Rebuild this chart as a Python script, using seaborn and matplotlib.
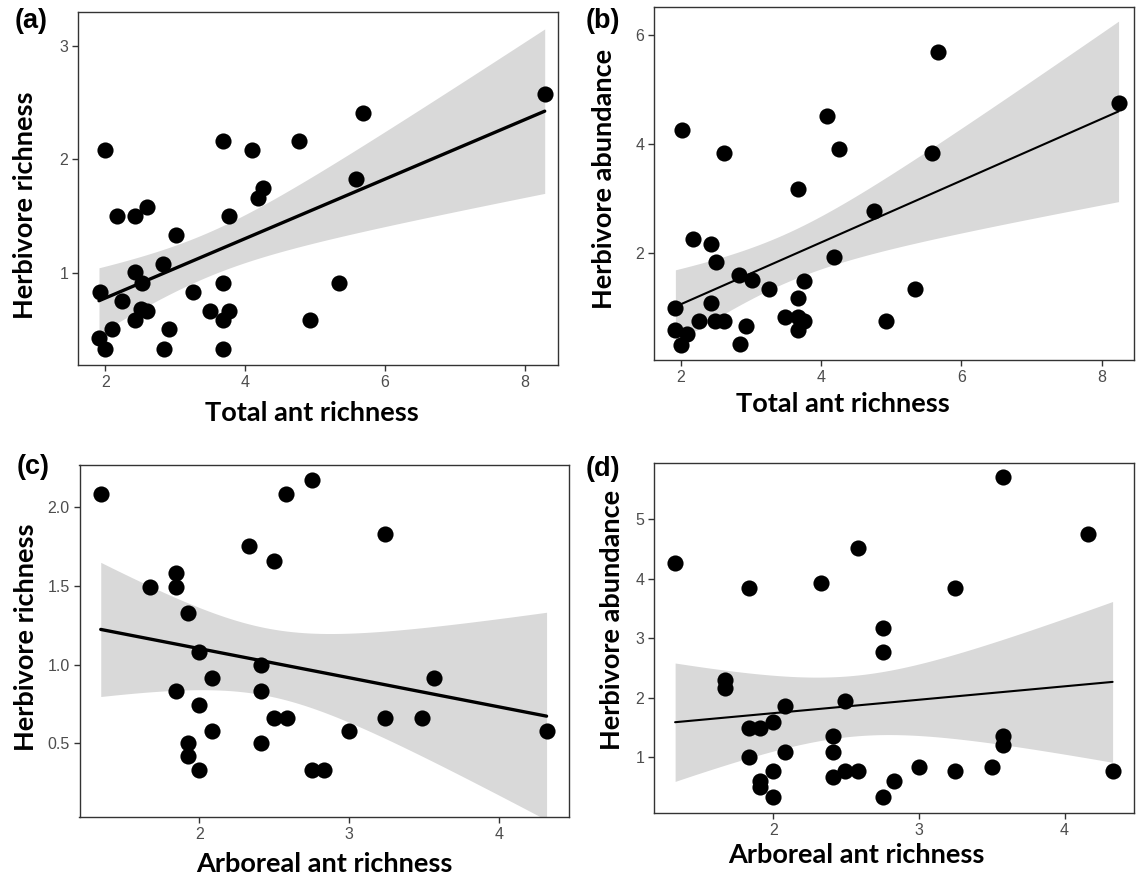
import numpy as np
import pandas as pd
import matplotlib
matplotlib.use("Agg")
import matplotlib.pyplot as plt
import seaborn as sns

# ── Data ──────────────────────────────────────────────────────────────────────
# (a) total ant richness vs herbivore richness
a_ants = [2.00, 1.92, 1.91, 2.00, 2.09, 2.17, 2.24, 2.42, 2.42, 2.52, 2.51, 2.42,
          2.59, 2.60, 2.83, 3.01, 2.91, 2.84, 3.25, 3.50, 3.68, 3.68, 3.77, 3.77,
          3.68, 3.68, 4.09, 4.18, 4.26, 4.77, 4.93, 5.34, 5.59, 5.69, 8.28]
a_herb = [2.08, 0.83, 0.42, 0.33, 0.50, 1.50, 0.75, 1.50, 1.01, 0.91, 0.68, 0.58,
          1.58, 0.66, 1.08, 1.33, 0.50, 0.33, 0.83, 0.66, 2.16, 0.91, 1.50, 0.66,
          0.58, 0.33, 2.08, 1.66, 1.75, 2.16, 0.58, 0.91, 1.83, 2.41, 2.58]

# (b) total ant richness vs herbivore abundance
b_ants = [2.02, 1.92, 1.92, 2.00, 2.09, 2.17, 2.26, 2.43, 2.43, 2.50, 2.49, 2.61,
          2.61, 2.83, 3.01, 2.93, 2.84, 3.26, 3.49, 3.67, 3.67, 3.75, 3.67, 3.75,
          3.67, 4.08, 4.25, 4.18, 4.75, 4.92, 5.34, 5.58, 5.66, 8.24]
b_herb = [4.25, 1.00, 0.60, 0.33, 0.52, 2.26, 0.77, 2.17, 1.10, 1.84, 0.77, 0.77,
          3.83, 1.60, 1.51, 0.67, 0.34, 1.34, 0.83, 3.18, 1.18, 1.50, 0.84, 0.77,
          0.60, 4.51, 3.91, 1.94, 2.78, 0.77, 1.34, 3.84, 5.68, 4.75]

# (c) arboreal ant richness vs herbivore richness
c_ants = [1.34, 1.67, 1.84, 1.84, 1.92, 1.84, 1.92, 1.92, 2.00, 2.00, 2.00, 2.085,
          2.085, 2.33, 2.50, 2.41, 2.41, 2.41, 2.50, 2.585, 2.58, 2.75, 2.75, 2.83,
          3.00, 3.24, 3.24, 3.49, 3.57, 4.32]
c_herb = [2.08, 1.49, 1.58, 1.49, 1.33, 0.83, 0.50, 0.42, 1.08, 0.74, 0.33, 0.915,
          0.58, 1.75, 1.66, 1.00, 0.83, 0.50, 0.66, 0.66, 2.08, 2.17, 0.33, 0.33,
          0.58, 1.83, 0.66, 0.66, 0.915, 0.58]

# (d) arboreal ant richness vs herbivore abundance
d_ants = [1.325, 1.67, 1.67, 1.83, 1.83, 1.83, 1.91, 1.91, 1.91, 2.00, 2.00, 2.00,
          2.08, 2.08, 2.33, 2.41, 2.41, 2.41, 2.49, 2.49, 2.58, 2.58, 2.75, 2.75,
          2.75, 2.83, 3.00, 3.25, 3.25, 3.50, 3.58, 3.58, 3.58, 4.16, 4.33]
d_herb = [4.26, 2.29, 2.16, 3.85, 1.49, 1.00, 1.49, 0.60, 0.51, 1.59, 0.77, 0.33,
          1.86, 1.09, 3.93, 1.36, 1.09, 0.67, 1.94, 0.77, 4.51, 0.77, 3.17, 2.76,
          0.33, 0.60, 0.83, 3.85, 0.77, 0.83, 5.70, 1.36, 1.20, 4.75, 0.77]

panel_letters = ["(a)", "(b)", "(c)", "(d)"]
x_titles = ["Total ant richness", "Total ant richness",
            "Arboreal ant richness", "Arboreal ant richness"]
y_titles = ["Herbivore richness", "Herbivore abundance",
            "Herbivore richness", "Herbivore abundance"]
x_ticks = [[2, 4, 6, 8], [2, 4, 6, 8], [2, 3, 4], [2, 3, 4]]
y_ticks = [[1, 2, 3], [2, 4, 6], [0.5, 1.0, 1.5, 2.0], [1, 2, 3, 4, 5]]
y_ticklabels = [["1", "2", "3"], ["2", "4", "6"],
                ["0.5", "1.0", "1.5", "2.0"], ["1", "2", "3", "4", "5"]]


def lm_band(x, y, grid, level_z=1.959964):
    # 95% confidence band of an OLS fit (like geom_smooth(method="lm"))
    x = np.asarray(x, float)
    y = np.asarray(y, float)
    n = len(x)
    b, a = np.polyfit(x, y, 1)
    resid = y - (a + b * x)
    s = np.sqrt(np.sum(resid ** 2) / (n - 2))
    sxx = np.sum((x - x.mean()) ** 2)
    df = n - 2
    z = level_z
    # Cornish-Fisher approximation of the t quantile
    t = z + (z ** 3 + z) / (4 * df) + (5 * z ** 5 + 16 * z ** 3 + 3 * z) / (96 * df ** 2)
    fit = a + b * grid
    se = s * np.sqrt(1 / n + (grid - x.mean()) ** 2 / sxx)
    return fit - t * se, fit + t * se


# ── Style ─────────────────────────────────────────────────────────────────────
sns.set_theme(style="white")
plt.rcParams["font.family"] = ["Liberation Sans", "DejaVu Sans"]

W, H = 1137, 881
fig = plt.figure(figsize=(W / 100, H / 100), dpi=100)

# axes boxes in pixels: left, top, right, bottom
boxes = [(78, 12, 558, 365), (654, 7, 1134, 360),
         (79.5, 465, 569, 817), (654, 463, 1134, 813)]
xlims = [(1.61, 8.47), (1.615, 8.46), (1.198, 4.47), (1.18, 4.477)]
ylims = [(0.185, 3.30), (0.05, 6.505), (0.032, 2.267), (0.066, 5.94)]
line_w = [2.4, 1.5, 2.4, 1.5]
ylab_pos = [(-0.110, 0.453), (-0.104, 0.513), (-0.110, 0.511), (-0.0875, 0.551)]
xlab_pos = [(0.4875, -0.136), (0.394, -0.125), (0.4995, -0.1335), (0.421, -0.12)]
letter_pos = [(31, 21), (603, 21), (33, 467), (603, 469)]

data = [(a_ants, a_herb), (b_ants, b_herb), (c_ants, c_herb), (d_ants, d_herb)]

# ── Panels ────────────────────────────────────────────────────────────────────
for i, (xs, ys) in enumerate(data):
    l, t, r, b = boxes[i]
    ax = fig.add_axes([l / W, 1 - b / H, (r - l) / W, (b - t) / H])
    df = pd.DataFrame({"x": xs, "y": ys})

    grid = np.linspace(min(xs), max(xs), 80)
    lo, hi = lm_band(xs, ys, grid)
    ax.fill_between(grid, lo, hi, color="#d9d9d9", linewidth=0, zorder=1)

    sns.regplot(data=df, x="x", y="y", ax=ax, color="black", ci=None,
                scatter_kws={"s": 135, "alpha": 1, "linewidths": 0, "zorder": 3},
                line_kws={"linewidth": line_w[i], "zorder": 2})

    ax.set_xlim(*xlims[i])
    ax.set_ylim(*ylims[i])
    ax.set_xticks(x_ticks[i])
    ax.set_xticklabels([str(v) for v in x_ticks[i]])
    ax.set_yticks(y_ticks[i])
    ax.set_yticklabels(y_ticklabels[i])
    ax.tick_params(axis="both", which="major", direction="out", length=4,
                   width=1, color="#333333", labelcolor="#4d4d4d",
                   labelsize=11.5, pad=3, bottom=True, left=True)
    for sp in ax.spines.values():
        sp.set_visible(True)
        sp.set_color("#333333")
        sp.set_linewidth(1.0)

    ax.set_xlabel(x_titles[i], family="Lato", fontweight="bold", fontsize=19.5,
                  color="black", va="center")
    ax.set_ylabel(y_titles[i], family="Lato", fontweight="bold", fontsize=19.5,
                  color="black", va="center")
    ax.xaxis.set_label_coords(*xlab_pos[i])
    ax.yaxis.set_label_coords(*ylab_pos[i])

    lx, ly = letter_pos[i]
    fig.text(lx / W, 1 - ly / H, panel_letters[i], ha="center", va="center",
             fontsize=19.5, fontweight="bold", color="black")

fig.savefig("out.png", dpi=100)
